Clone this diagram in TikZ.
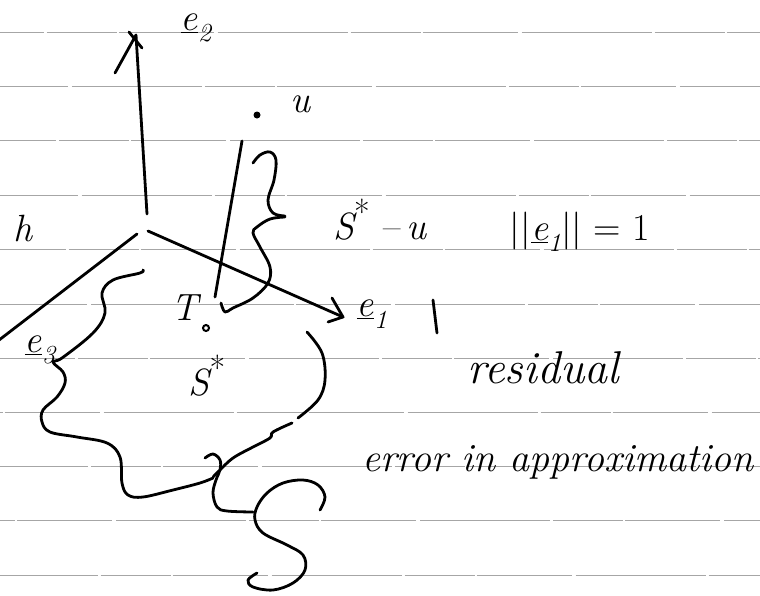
\documentclass[tikz,border=0pt]{standalone}
\usetikzlibrary{calc}
\newcommand\mysub[1]{\raisebox{-0.3em}{\fontsize{26}{28}\selectfont #1}}
\newcommand\mysup[1]{\raisebox{0.4em}{\fontsize{34}{36}\selectfont\upshape #1}}
\begin{document}
\begin{tikzpicture}[x=1pt,y=-1pt,
  ink/.style={line width=2.8pt,line cap=round,line join=round,black},
  rule/.style={line width=1pt,gray!70,dash pattern=on 130pt off 3pt on 70pt off 2pt on 95pt off 4pt},
  hand/.style={font=\fontsize{38}{42}\selectfont\itshape,inner sep=0pt}]
\useasboundingbox (0,0) rectangle (760,595);
\clip (0,0) rectangle (760,595);
\fill[white] (0,0) rectangle (760,595);
% ruled lines
\foreach \yy in {32,86,140,195,249,304,358,412,466,520,575}
  \draw[rule,dash phase=\yy*2.7] (0,\yy) -- (760,\yy);
% axes
\coordinate (O1) at (148,231);
\coordinate (O3) at (137,234);
\coordinate (O2) at (147,214);
\coordinate (E2) at (136,35);
\coordinate (E1) at (343,317);
\coordinate (E3) at (-10,347);
\draw[ink] (O2) -- (E2);
\draw[ink] (115,73) -- (E2);
\draw[ink] (129,32) -- (142,48);
\draw[ink] (O1) -- (E1);
\draw[ink] (332,298) -- (E1) -- (328,322);
\draw[ink] (O3) -- (E3);
% u line
\coordinate (Utop) at (242,141);
\coordinate (Ubot) at (215,297);
\draw[ink] (Utop) -- (Ubot);
\fill (257,115) circle (3.5pt);
\node[hand] (u) at (300,104) {u};
% T
\node[hand] (T) at (185,308) {T};
\draw[line width=2pt] (206,328) circle (3pt);
% brace S*-u
\draw[ink] plot[smooth,tension=0.6] coordinates {(253,163) (260,155) (270,152) (276,160) (274,180) (268,200) (273,213) (285,216)};
\draw[ink] plot[smooth,tension=0.6] coordinates {(285,217) (270,219) (257,227) (253,233) (260,247) (270,267) (268,283) (253,298) (233,308) (225,312) (221,303)};
\node[hand] (Smu) at (380,220) {S\mysup{*}\hspace{0.35em}{\upshape –}\,u};
\node[hand] (norm) at (580,232) {{\upshape ||}\underline{e}\mysub{1}{\upshape || = 1}};
% labels
\node[hand] (e2) at (196,28) {\underline{e}\mysub{2}};
\node[hand] (e1) at (372,314) {\underline{e}\mysub{1}};
\draw[ink] (433,300) -- (437,333);
\node[hand] (e3) at (40,350) {\underline{e}\mysub{3}};
\node[hand,anchor=east] (h) at (33,228) {h};
\node[hand] (Sstar) at (207,376) {S\mysup{*}};
\node[hand,font=\fontsize{46}{50}\selectfont\itshape] (resid) at (543,368) {residual};
\node[hand,font=\fontsize{40}{44}\selectfont\itshape,anchor=west] (err) at (362,462) {error in approximation};
% region boundary
\draw[ink] plot[smooth,tension=0.6] coordinates {(143,270) (140,273) (113,280) (102,293) (105,313) (93,333) (62,358) (53,362) (63,372) (65,383) (57,397) (43,410) (42,422) (50,432) (77,437) (107,443) (120,457) (122,483) (128,495) (143,497) (173,490) (200,483) (213,478)};
\draw[ink] plot[smooth,tension=0.6] coordinates {(307,332) (322,353) (325,380) (318,400) (298,418)};
\draw[ink] plot[smooth,tension=0.6] coordinates {(292,423) (273,432) (270,438) (253,447) (233,458) (220,470) (213,477)};
\draw[ink] plot[smooth,tension=0.6] coordinates {(205,458) (213,454) (220,460) (220,470) (216,480) (213,493) (217,507) (227,511) (253,512)};
% big S
\draw[ink] plot[smooth,tension=0.6] coordinates {(320,510) (325,497) (318,485) (303,480) (283,483) (267,493) (257,507) (255,520) (263,533) (287,545) (303,555) (305,570) (293,583) (273,590) (253,587) (248,580) (257,573)};
\end{tikzpicture}
\end{document}
